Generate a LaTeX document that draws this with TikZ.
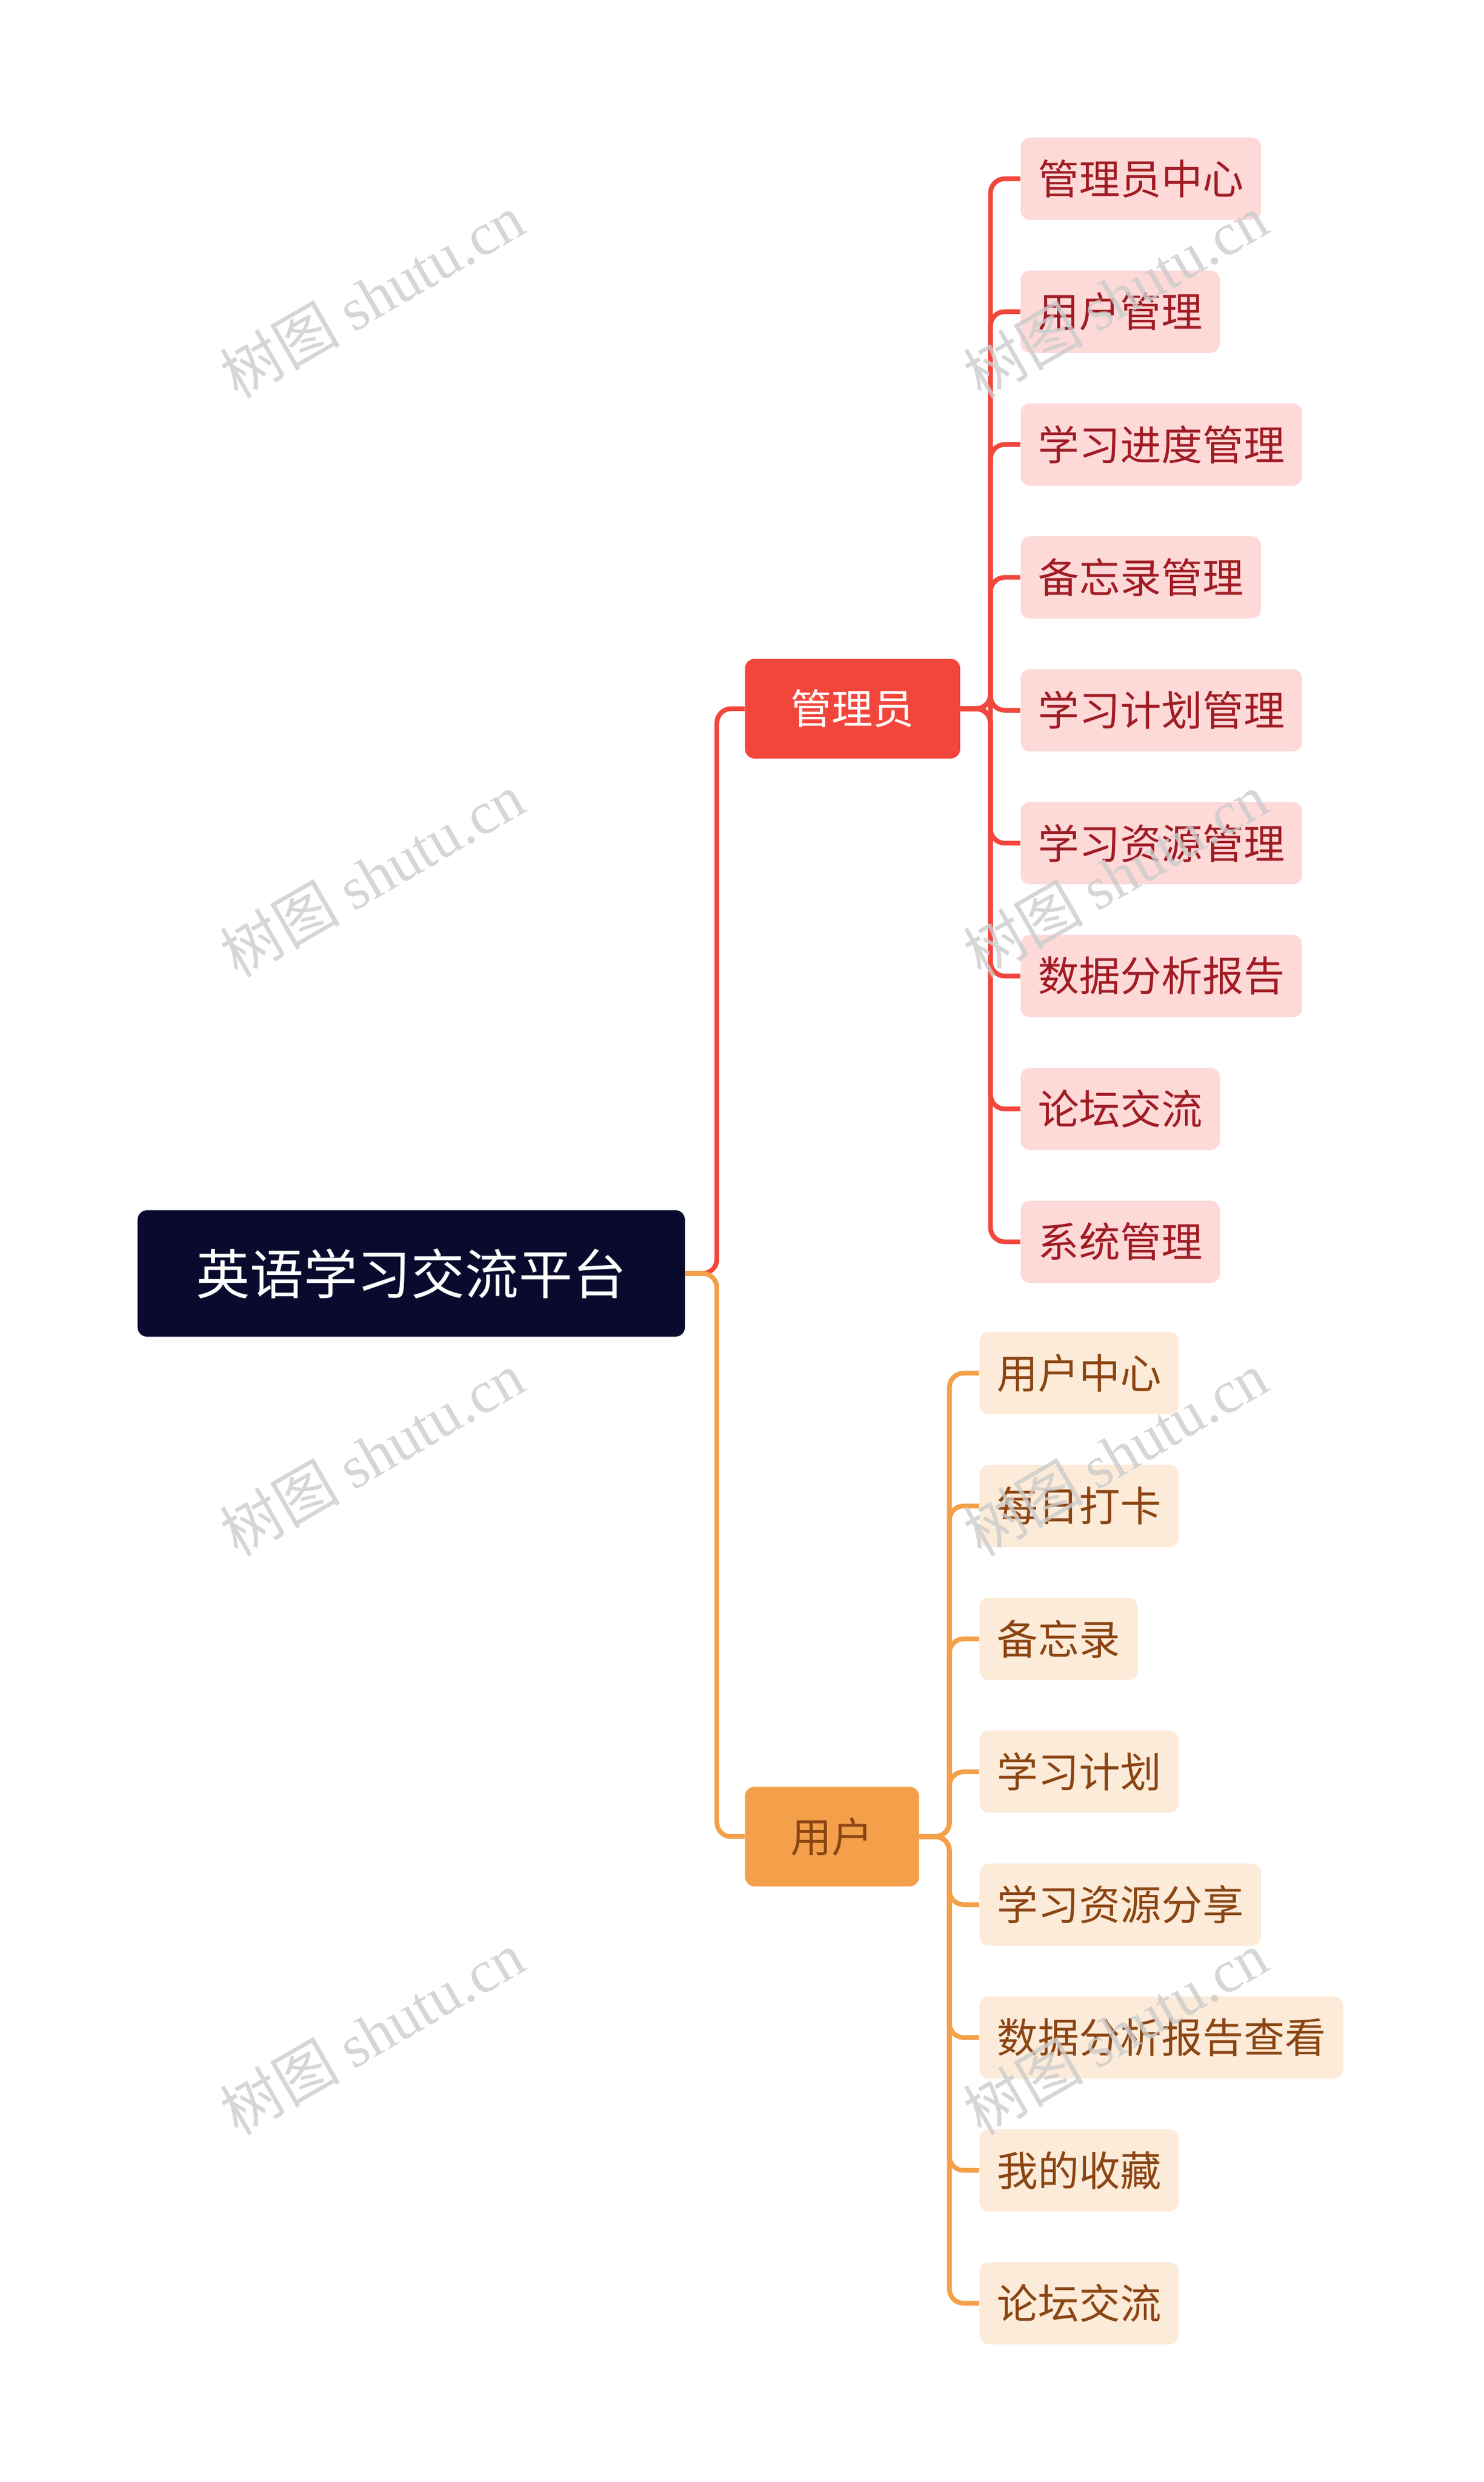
\documentclass[tikz,border=0pt]{standalone}
\usepackage{fontspec}
\setmainfont{Noto Sans CJK SC}
\newfontfamily\wmserif{Liberation Serif}
\usetikzlibrary{positioning}
\definecolor{rootbg}{HTML}{0A0A2E}
\definecolor{adminred}{HTML}{F2463C}
\definecolor{adminpale}{HTML}{FDD9D8}
\definecolor{admintext}{HTML}{A01C24}
\definecolor{userorange}{HTML}{F4A04A}
\definecolor{userpale}{HTML}{FDEBD9}
\definecolor{usertext}{HTML}{8B4513}
\begin{document}
\begin{tikzpicture}
        [x=1pt, y=-1pt,
        rootbox/.style={rectangle, rounded corners=6pt, fill=rootbg, text=white,
          minimum width=346pt, minimum height=80pt, font=\fontsize{34}{40}\selectfont},
        branch/.style={rectangle, rounded corners=6pt, minimum height=63pt,
          font=\fontsize{26}{30}\selectfont},
        leaf/.style={rectangle, rounded corners=6pt, minimum height=52pt, inner xsep=11pt,
          anchor=west, font=\fontsize{26}{30}\selectfont},
        link/.style={line width=3pt, rounded corners=9pt},
        watermark/.style={text=gray!40, opacity=0.8, rotate=30, font=\fontsize{38}{42}\selectfont}]
        \useasboundingbox (0,0) rectangle (938,1569);
        % root and branches
        \node (root) at (260,805) [rootbox] {英语学习交流平台};
        \node (admin) at (539,448) [branch, fill=adminred, text=white, minimum width=136pt] {管理员};
        \node (user) at (526,1161) [branch, fill=userorange, text=usertext, minimum width=110pt] {用户};
        \draw[link, adminred] (root.east) -- ++(20,0) |- (admin.west);
        \draw[link, userorange] (root.east) -- ++(20,0) |- (user.west);
        % admin leaves
        \foreach \t [count=\i] in {管理员中心, 用户管理, 学习进度管理, 备忘录管理, 学习计划管理,
            学习资源管理, 数据分析报告, 论坛交流, 系统管理} {
          \node (a\i) at (645,{29+84*\i}) [leaf, fill=adminpale, text=admintext] {\t};
          \draw[link, adminred] (admin.east) -- ++(19,0) |- (a\i.west);
        }
        % user leaves
        \foreach \t [count=\i] in {用户中心, 每日打卡, 备忘录, 学习计划, 学习资源分享,
            数据分析报告查看, 我的收藏, 论坛交流} {
          \node (u\i) at (619,{784+84*\i}) [leaf, fill=userpale, text=usertext] {\t};
          \draw[link, userorange] (user.east) -- ++(19,0) |- (u\i.west);
        }
        % watermarks
        \foreach \wx/\wy in {235/187, 705/187, 235/553, 705/553, 235/919, 705/919, 235/1285, 705/1285}
          \node[watermark] at (\wx,\wy) {树图 {\wmserif shutu.cn}};
\end{tikzpicture}
\end{document}
